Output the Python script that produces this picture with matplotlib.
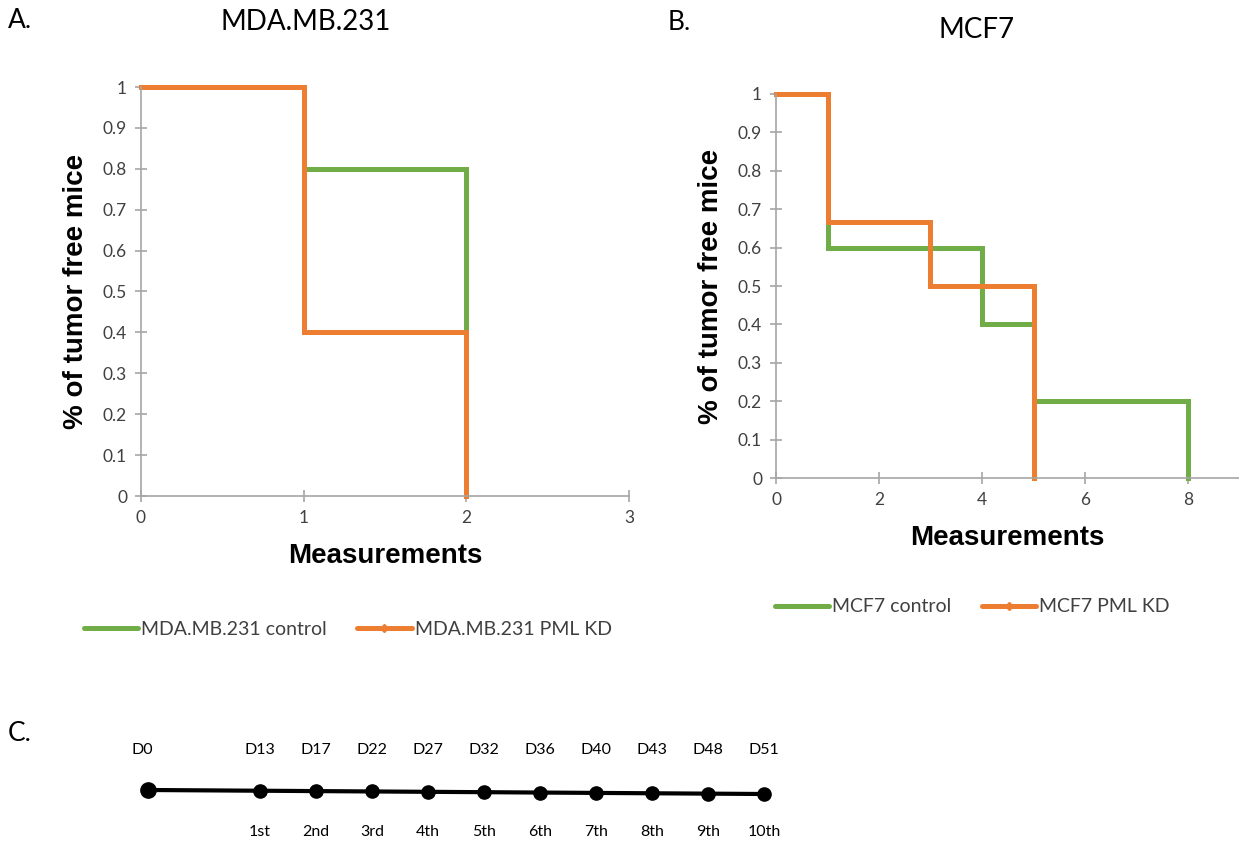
import matplotlib
matplotlib.use("Agg")
import matplotlib.pyplot as plt
from matplotlib.lines import Line2D
from matplotlib.ticker import FormatStrFormatter

# ---------------- data ----------------
titleA = "MDA.MB.231"
titleB = "MCF7"
ylabel = "% of tumor free mice"
xlabel = "Measurements"

a_ctrl_x = [0, 1, 2]
a_ctrl_y = [1.0, 0.8, 0.0]
a_kd_x = [0, 1, 2]
a_kd_y = [1.0, 0.4, 0.0]
a_labels = ["MDA.MB.231 control", "MDA.MB.231 PML KD"]

b_ctrl_x = [0, 1, 4, 5, 8]
b_ctrl_y = [1.0, 0.6, 0.4, 0.2, 0.0]
b_kd_x = [0, 1, 3, 5]
b_kd_y = [1.0, 0.667, 0.5, 0.0]
b_labels = ["MCF7 control", "MCF7 PML KD"]

y_ticks = [0, 0.1, 0.2, 0.3, 0.4, 0.5, 0.6, 0.7, 0.8, 0.9, 1]

days = ["D0", "D13", "D17", "D22", "D27", "D32", "D36", "D40", "D43", "D48", "D51"]
ordinals = ["", "1st", "2nd", "3rd", "4th", "5th", "6th", "7th", "8th", "9th", "10th"]
slots = [0, 2, 3, 4, 5, 6, 7, 8, 9, 10, 11]

GREEN = "#70ad47"
ORANGE = "#ed7d31"
AXC = "#a6a6a6"
TXT = "#404040"
SANS = ["Lato", "DejaVu Sans"]
BOLD = ["Liberation Sans", "DejaVu Sans"]

W, H = 1239, 846
fig = plt.figure(figsize=(W / 100, H / 100), dpi=100)


def px_axes(x0, x1, y_top, y_bot):
    return fig.add_axes([x0 / W, 1 - y_bot / H, (x1 - x0) / W, (y_bot - y_top) / H])


def style(ax, xmax, xticks):
    ax.set_xlim(0, xmax)
    ax.set_ylim(0, 1)
    for s in ("top", "right"):
        ax.spines[s].set_visible(False)
    for s in ("left", "bottom"):
        ax.spines[s].set_color(AXC)
        ax.spines[s].set_linewidth(1.2)
    ax.set_xticks(xticks)
    ax.set_yticks(y_ticks)
    ax.yaxis.set_major_formatter(FormatStrFormatter("%g"))
    ax.tick_params(direction="inout", length=8, width=1.2, color=AXC,
                   labelsize=12.5, labelcolor=TXT, pad=6)
    for lab in ax.get_xticklabels() + ax.get_yticklabels():
        lab.set_fontfamily(SANS)
    ax.set_xlabel(xlabel, fontsize=20, fontweight="bold", family=BOLD, labelpad=12)
    ax.set_ylabel(ylabel, fontsize=20, fontweight="bold", family=BOLD, labelpad=10)


# ---------------- panel A ----------------
axA = px_axes(141, 629, 87, 496)
axA.step(a_ctrl_x, a_ctrl_y, where="post", color=GREEN, lw=3.6, clip_on=False,
         solid_joinstyle="miter")
axA.step(a_kd_x, a_kd_y, where="post", color=ORANGE, lw=3.6, clip_on=False,
         solid_joinstyle="miter")
style(axA, 3, [0, 1, 2, 3])

# ---------------- panel B ----------------
axB = px_axes(776, 1239.5, 94, 478)
axB.step(b_ctrl_x, b_ctrl_y, where="post", color=GREEN, lw=3.6, clip_on=False,
         solid_joinstyle="miter")
axB.step(b_kd_x, b_kd_y, where="post", color=ORANGE, lw=3.6, clip_on=False,
         solid_joinstyle="miter")
style(axB, 9, [0, 2, 4, 6, 8])


def legend_handles():
    return [Line2D([], [], color=GREEN, lw=3.6, solid_capstyle="round"),
            Line2D([], [], color=ORANGE, lw=3.6, marker="D", markersize=4.5,
                   markevery=[1], solid_capstyle="round")]


def add_legend(labels, x_left, y_center):
    h = legend_handles()
    fig.legend(h, labels, loc="center left",
               bbox_to_anchor=(x_left / W, 1 - y_center / H), ncol=2,
               frameon=False, prop={"family": SANS, "size": 14},
               handlelength=2.8, handletextpad=0.15, columnspacing=1.55,
               borderaxespad=0, borderpad=0, labelcolor=TXT)


add_legend(a_labels, 84, 629)
add_legend(b_labels, 775, 607)

# titles and panel letters
fig.text(306 / W, 1 - 22 / H, titleA, ha="center", va="center", fontsize=20,
         family=SANS, color="black")
fig.text(977 / W, 1 - 30 / H, titleB, ha="center", va="center", fontsize=20,
         family=SANS, color="black")
fig.text(8 / W, 1 - 20 / H, "A.", ha="left", va="center", fontsize=19, family=SANS)
fig.text(668 / W, 1 - 22 / H, "B.", ha="left", va="center", fontsize=19, family=SANS)
fig.text(8 / W, 1 - 733 / H, "C.", ha="left", va="center", fontsize=19, family=SANS)

# ---------------- panel C timeline ----------------
axC = px_axes(148, 764, 720, 846)
axC.set_xlim(0, 11)
axC.set_ylim(846, 720)
axC.axis("off")
tilt = [790 + 4 * s / 11 for s in slots]
axC.plot(slots, tilt, color="black", lw=3, clip_on=False, zorder=2)
axC.plot(slots[:1], tilt[:1], "o", color="black", ms=11, clip_on=False, zorder=3)
axC.plot(slots[1:], tilt[1:], "o", color="black", ms=9.5, clip_on=False, zorder=3)
for i, (s, d, o) in enumerate(zip(slots, days, ordinals)):
    dx = -0.1 if i == 0 else 0.0
    axC.text(s + dx, 750, d, ha="center", va="center", fontsize=11.5, family=SANS,
             color="black", clip_on=False)
    if o:
        axC.text(s, 832, o, ha="center", va="center", fontsize=11.5, family=SANS,
                 color="black", clip_on=False)

fig.savefig("out.png", dpi=100)
